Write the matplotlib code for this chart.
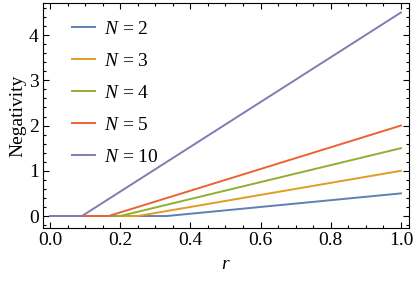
import matplotlib
matplotlib.use("Agg")
import matplotlib.pyplot as plt
from matplotlib.ticker import MultipleLocator

plt.rcParams['font.family'] = ['Liberation Serif', 'DejaVu Serif']
plt.rcParams['mathtext.fontset'] = 'custom'
plt.rcParams['mathtext.rm'] = 'Liberation Serif'
plt.rcParams['mathtext.it'] = 'Liberation Serif:italic'

# piecewise linear curves: zero up to a threshold, then linear
N_values = [2, 3, 4, 5, 10]
r_knots = [[0.0, 0.333, 1.0],
           [0.0, 0.25, 1.0],
           [0.0, 0.20, 1.0],
           [0.0, 0.167, 1.0],
           [0.0, 0.091, 1.0]]
neg_knots = [[0, 0, 0.5],
             [0, 0, 1.0],
             [0, 0, 1.5],
             [0, 0, 2.0],
             [0, 0, 4.5]]
colors = ['#5E81B5', '#E19C24', '#8FB032', '#EB6235', '#8778B3']

fig = plt.figure(figsize=(4.15, 2.81), dpi=100)
ax = fig.add_axes([0.1036, 0.1886, 0.8819, 0.8007])

for n, r, v, c in zip(N_values, r_knots, neg_knots, colors):
    ax.plot(r, v, color=c, lw=1.4, label=r'$N$ = %d' % n)

ax.set_xlim(-0.02, 1.023)
ax.set_ylim(-0.265, 4.71)
ax.xaxis.set_major_locator(MultipleLocator(0.2))
ax.xaxis.set_minor_locator(MultipleLocator(0.05))
ax.yaxis.set_major_locator(MultipleLocator(1))
ax.yaxis.set_minor_locator(MultipleLocator(0.2))
ax.xaxis.set_major_formatter(plt.FuncFormatter(lambda x, p: '%.1f' % x))
ax.tick_params(which='both', direction='in', top=True, right=True, labelsize=14, width=0.8)
ax.tick_params(which='major', length=4.5, pad=3)
ax.tick_params(which='minor', length=2.5)
for s in ax.spines.values():
    s.set_linewidth(0.8)

ax.set_xlabel(r'$r$', fontsize=14, labelpad=5)
ax.set_ylabel('Negativity', fontsize=14, labelpad=2)

ax.legend(loc='upper left', frameon=False, fontsize=14, handlelength=1.2,
          handletextpad=0.45, labelspacing=0.74, borderaxespad=0, borderpad=0,
          bbox_to_anchor=(0.079, 0.922))

fig.savefig('out.png', dpi=100)
